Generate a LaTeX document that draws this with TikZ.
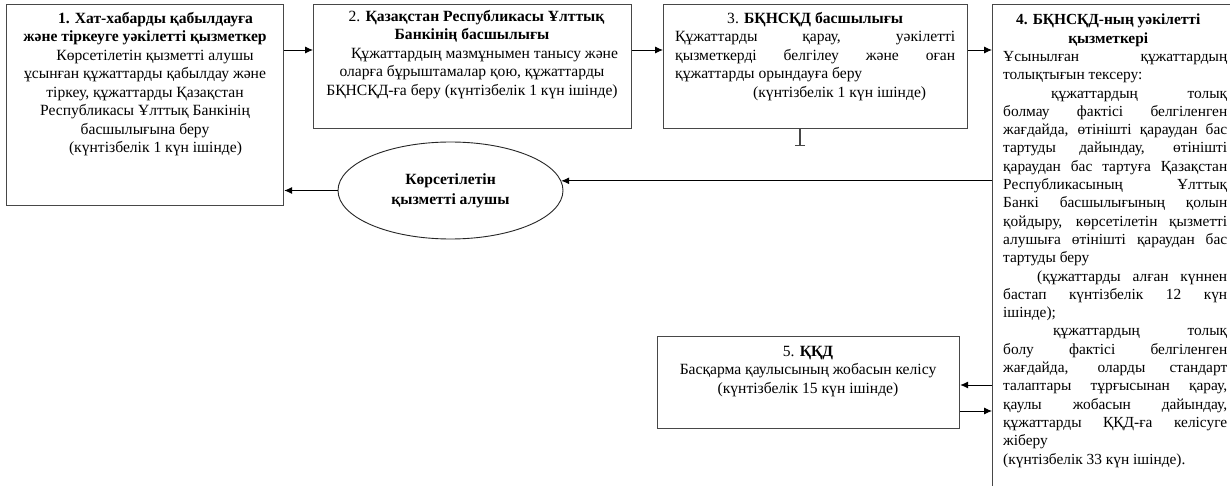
\documentclass[tikz,border=0pt]{standalone}
\usepackage{fontspec}
\setmainfont{Liberation Serif}
\usetikzlibrary{arrows.meta,shapes.geometric}
\newcommand\bodyfont{\fontsize{15.6}{18.5}\selectfont}
\newcommand\denseFont{\fontsize{15.4}{18.3}\selectfont}
\newcommand\jline[1]{\makebox[224pt][s]{#1}}
\newcommand\lline[1]{\makebox[224pt][l]{#1}}
\begin{document}
\begin{tikzpicture}[x=1pt,y=-1pt,
  box/.style={draw=black!72, line width=1.2pt, rectangle, inner sep=0pt, anchor=north west},
  txt/.style={anchor=north, inner sep=0pt, font=\bodyfont, align=center},
  jtxt/.style={anchor=north west, inner sep=0pt, font=\bodyfont, align=left},
  arr/.style={draw=black, line width=0.9pt, -{Latex[length=8pt,width=7pt]}},
]
\useasboundingbox (0,0) rectangle (1230,486);
\clip (0,0) rectangle (1230,486);
\fill[white] (0,0) rectangle (1230,486);

% process boxes
\node[box, minimum width=277pt, minimum height=201pt] (b1) at (6,4) {};
\node[box, minimum width=318pt, minimum height=124pt] (b2) at (313,4) {};
\node[box, minimum width=304pt, minimum height=124pt] (b3) at (663,4) {};
\node[box, minimum width=280pt, minimum height=530pt] (b4) at (992,4) {};
\node[box, minimum width=302pt, minimum height=92pt] (b5) at (657,336) {};

% service recipient
\node[ellipse, draw=black!85, line width=0.9pt, minimum width=225pt, minimum height=97pt,
      inner sep=0pt, align=center, font=\fontsize{15.6}{20}\selectfont\bfseries] (ell) at (450.5,190.5)
      {Көрсетілетін\\қызметті алушы};

% box texts
\node[txt] (t1) at (145,12) {%
  \hspace*{21pt}\textbf{1. Хат-хабарды қабылдауға}\\
  \textbf{және тіркеуге уәкілетті қызметкер}\\
  \hspace*{20pt}Көрсетілетін қызметті алушы\\
  ұсынған құжаттарды қабылдау және\\
  тіркеу, құжаттарды Қазақстан\\
  Республикасы Ұлттық Банкінің\\
  басшылығына беру\\
  \hspace*{21pt}(күнтізбелік 1 күн ішінде)};

\node[txt] (t2) at (472,10) {%
  \hspace*{9pt}2. \textbf{Қазақстан Республикасы Ұлттық}\\
  \textbf{Банкінің басшылығы}\\
  \hspace*{25pt}Құжаттардың мазмұнымен танысу және\\
  оларға бұрыштамалар қою, құжаттарды\\
  БҚНСҚД-ға беру (күнтізбелік 1 күн ішінде)};

\node[jtxt] (t3) at (675,12) {%
  \makebox[280pt][c]{3. \textbf{БҚНСҚД басшылығы}}\\
  \makebox[280pt][s]{Құжаттарды қарау, уәкілетті}\\
  \makebox[280pt][s]{қызметкерді белгілеу және оған}\\
  \makebox[280pt][l]{құжаттарды орындауға беру}\\
  \makebox[280pt][l]{\hspace*{78pt}(күнтізбелік 1 күн ішінде)}};

\node[jtxt, font=\denseFont] (t4) at (1003,14) {%
  \makebox[224pt][c]{\textbf{4. БҚНСҚД-ның уәкілетті}\hspace*{14pt}}\\
  \makebox[224pt][c]{\textbf{қызметкері}\hspace*{14pt}}\\
  \jline{Ұсынылған құжаттардың}\\
  \lline{толықтығын тексеру:}\\
  \jline{\hspace*{48pt}құжаттардың толық}\\
  \jline{болмау фактісі белгіленген}\\
  \jline{жағдайда, өтінішті қараудан бас}\\
  \jline{тартуды дайындау, өтінішті}\\
  \jline{қараудан бас тартуға Қазақстан}\\
  \jline{Республикасының Ұлттық}\\
  \jline{Банкі басшылығының қолын}\\
  \jline{қойдыру, көрсетілетін қызметті}\\
  \jline{алушыға өтінішті қараудан бас}\\
  \lline{тартуды беру}\\
  \jline{\hspace*{34pt}(құжаттарды алған күннен}\\
  \jline{бастап күнтізбелік 12 күн}\\
  \lline{ішінде);}\\
  \jline{\hspace*{50pt}құжаттардың толық}\\
  \jline{болу фактісі белгіленген}\\
  \jline{жағдайда, оларды стандарт}\\
  \jline{талаптары тұрғысынан қарау,}\\
  \jline{қаулы жобасын дайындау,}\\
  \jline{құжаттарды ҚҚД-ға келісуге}\\
  \lline{жіберу}\\
  \lline{(күнтізбелік 33 күн ішінде).}};

\node[txt] (t5) at (808,346) {%
  5. \textbf{ҚҚД}\\
  Басқарма қаулысының жобасын келісу\\
  (күнтізбелік 15 күн ішінде)};

% connectors
\coordinate (row) at (0,50);
\draw[arr] (b1.east |- row) -- (b2.west |- row);
\draw[arr] (b2.east |- row) -- (b3.west |- row);
\draw[arr] (b3.east |- row) -- (b4.west |- row);
\draw[arr] (b4.west |- ell.5) -- (ell.5);
\draw[arr] (ell.west) -- (b1.east |- ell.west);
\coordinate (bar) at (800,146);
\draw[draw=black!72, line width=1.2pt, -{Bar[width=10pt]}] (bar |- b3.south) -- (bar);
\coordinate (back) at (0,385);
\coordinate (fwd) at (0,411);
\draw[arr] (b4.west |- back) -- (b5.east |- back);
\draw[arr] (b5.east |- fwd) -- (b4.west |- fwd);
\end{tikzpicture}
\end{document}
